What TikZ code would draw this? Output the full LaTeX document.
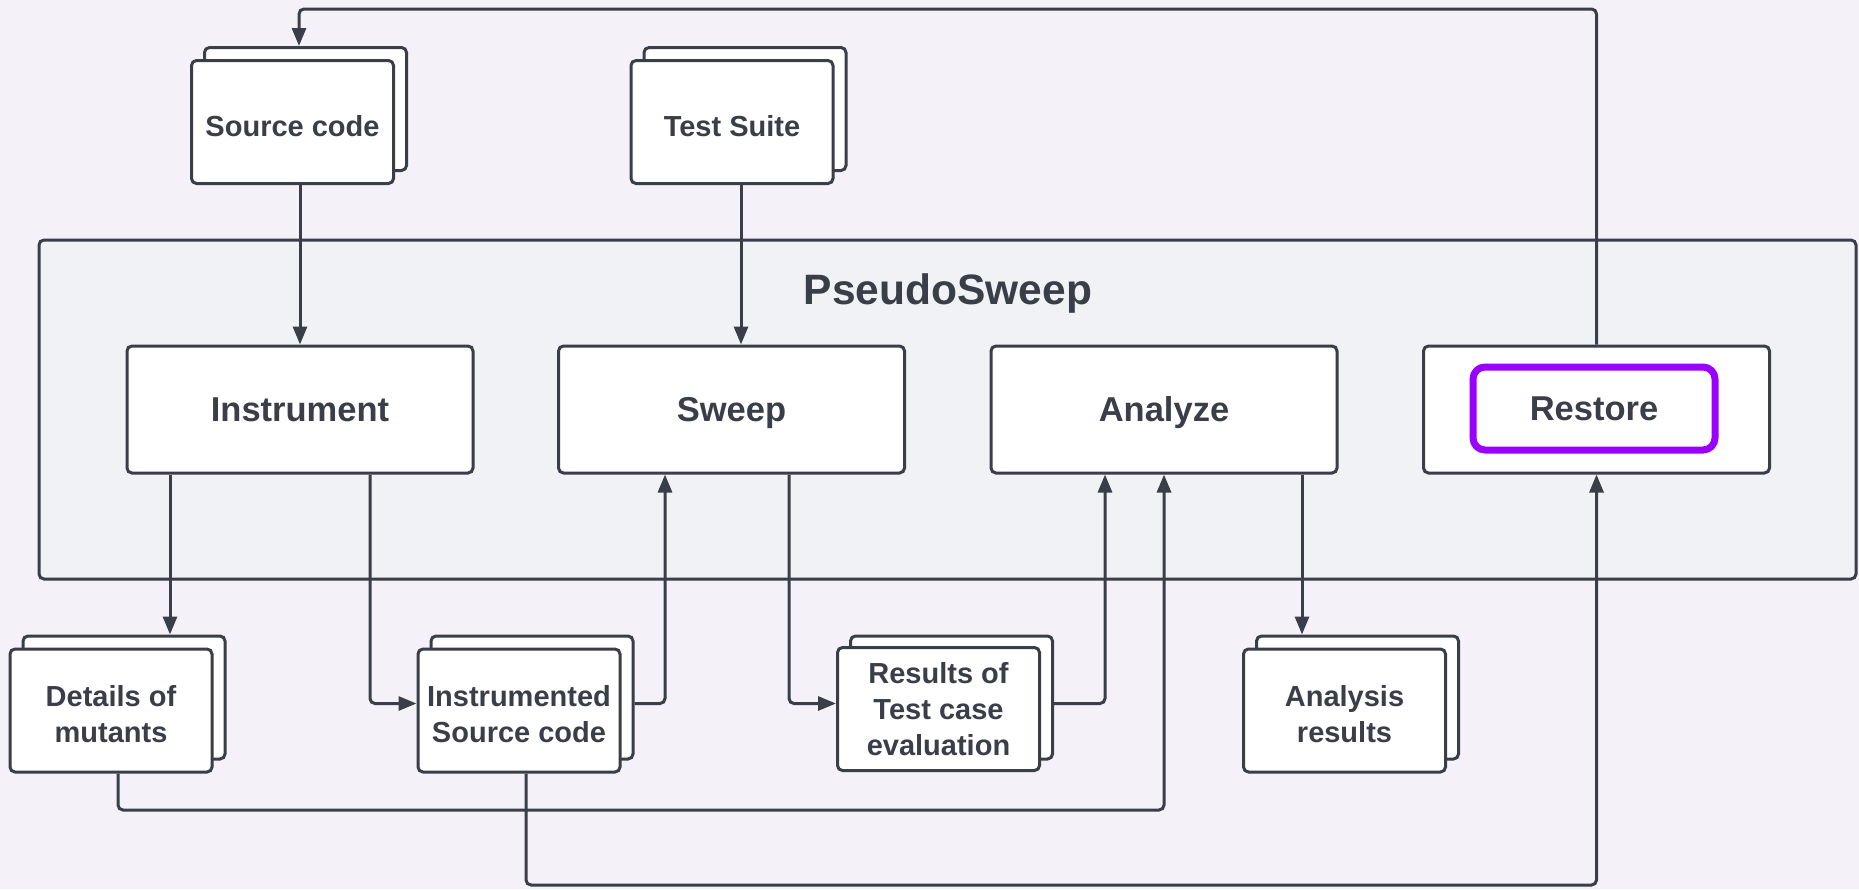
\documentclass[tikz,border=0pt]{standalone}
\usepackage{fontspec}
\setmainfont{Liberation Sans}
\usetikzlibrary{arrows.meta,calc}
\definecolor{bgc}{RGB}{244,242,248}
\definecolor{contc}{RGB}{241,242,245}
\definecolor{linec}{RGB}{58,62,72}
\definecolor{txtc}{RGB}{58,62,72}
\definecolor{purp}{RGB}{153,0,255}
\begin{document}
\begin{tikzpicture}[x=1pt,y=-1pt,
  box/.style={draw=linec,line width=3pt,fill=white,rounded corners=5pt,
    minimum width=346pt,minimum height=127pt,inner sep=0pt,
    font=\fontsize{34.5}{40}\selectfont\bfseries,text=txtc,
    text height=24pt,text depth=0pt},
  doc/.style={draw=linec,line width=3pt,fill=white,rounded corners=5pt,
    minimum width=202pt,minimum height=123pt,inner sep=0pt,
    font=\fontsize{29}{36}\selectfont\bfseries,text=txtc,align=center},
  docl/.style={doc,text height=28.5pt},
  docll/.style={doc,text height=64pt},
  docback/.style={doc},
  conn/.style={draw=linec,line width=3pt,rounded corners=5pt},
  arr/.style={conn,-{Triangle[length=18pt,width=14pt]}}
]
\useasboundingbox (0,0) rectangle (1859,889);
\fill[bgc] (0,0) rectangle (1859,889);

% container
\node[draw=linec,line width=3pt,fill=contc,rounded corners=5pt,
  minimum width=1817pt,minimum height=339pt,inner sep=0pt] (cont) at (947.5,409.5) {};
\node[font=\fontsize{42.5}{48}\selectfont\bfseries,text=txtc,anchor=base,inner sep=0pt]
  (title) at (948,304) {PseudoSweep};

% main boxes
\node[box] (ins) at (300,409.5) {Instrument};
\node[box] (swp) at (731.5,409.5) {Sweep};
\node[box] (anl) at (1164,409.5) {Analyze};
\node[box] (rst) at (1596.5,409.5) {};
\node[draw=purp,line width=7pt,fill=white,rounded corners=12pt,
  minimum width=242pt,minimum height=83pt,inner sep=0pt,
  font=\fontsize{34.5}{40}\selectfont\bfseries,text=txtc,
  text height=24pt,text depth=0pt] (rsti) at (1594,408.5) {Restore};

% top documents
\node[docback] (srcb) at (305.5,109) {};
\node[docl] (src) at (292.5,122) {Source code};
\node[docback] (tstb) at (745,109) {};
\node[docl] (tst) at (732,122) {Test Suite};

% bottom documents
\node[docback] (detb) at (124,697.5) {};
\node[docll] (det) at (111,710.5) {Details of\\mutants};
\node[docback] (iscb) at (532,697.5) {};
\node[docll] (isc) at (519,710.5) {Instrumented\\Source code};
\node[docback] (resb) at (951.5,697.5) {};
\node[doc] (res) at (938.5,709) {Results of\\Test case\\evaluation};
\node[docback] (anrb) at (1357.5,697.5) {};
\node[docll] (anr) at (1344.5,710.5) {Analysis\\results};

% helper coordinates
\coordinate (topy) at (0,9);
\coordinate (lowA) at (0,810);
\coordinate (lowB) at (0,885);
\coordinate (iscL) at ([yshift=7pt]isc.west);
\coordinate (resL) at ([yshift=5.5pt]res.west);

% connectors
\draw[arr] (rst.north) -- (rst.north |- topy) -| ([xshift=-6.5pt]srcb.north);
\draw[arr] (ins.north |- src.south) -- (ins.north);
\draw[arr] ([xshift=9pt]tst.south) -- ([xshift=9pt]tst.south |- swp.north);
\draw[arr] ([xshift=-130pt]ins.south) -- ([xshift=-130pt]ins.south |- detb.north);
\draw[arr] ([xshift=70pt]ins.south) |- (iscL);
\draw[arr] (iscL -| iscb.east) -| ([xshift=-66.5pt]swp.south);
\draw[arr] ([xshift=57.5pt]swp.south) |- (resL);
\draw[arr] (resL -| resb.east) -| ([xshift=-59pt]anl.south);
\draw[arr] ([xshift=7pt]det.south) -- ([xshift=7pt]det.south |- lowA) -| (anl.south);
\draw[arr] ([xshift=7pt]isc.south) -- ([xshift=7pt]isc.south |- lowB) -| (rst.south);
\draw[arr] ([xshift=138pt]anl.south) -- ([xshift=138pt]anl.south |- anrb.north);
\end{tikzpicture}
\end{document}
